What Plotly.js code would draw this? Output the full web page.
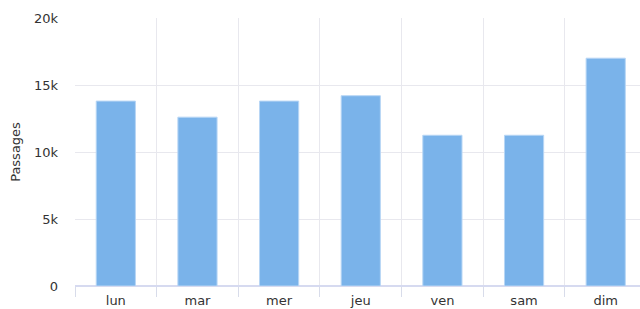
<!DOCTYPE html>
<html>
<head>
<meta charset="utf-8">
<script src="https://cdn.plot.ly/plotly-3.0.1.min.js"></script>
<style>html,body{margin:0;padding:0;background:#fff;}#chart{width:640px;height:309px;}</style>
</head>
<body>
<div id="chart"></div>
<script>
const categories = ["lun", "mar", "mer", "jeu", "ven", "sam", "dim"];
const passages = [13800, 12600, 13800, 14200, 11250, 11250, 17000];
const yTickVals = [0, 5000, 10000, 15000, 20000];
const yTickText = ["0", "5k", "10k", "15k", "20k"];

const trace = {
  type: "bar",
  x: categories,
  y: passages,
  marker: {color: "#7ab3ea", line: {color: "#b8d6f5", width: 1}},
  hoverinfo: "none"
};

const layout = {
  width: 640, height: 309,
  margin: {l: 75, r: 0, t: 18, b: 23},
  paper_bgcolor: "#ffffff", plot_bgcolor: "#ffffff",
  font: {family: "DejaVu Sans, sans-serif", size: 13, color: "#333333"},
  bargap: 0.52,
  showlegend: false,
  xaxis: {
    type: "category",
    range: [-0.5, 6.42],
    tickson: "boundaries",
    ticks: "outside", ticklen: 10, tickcolor: "#d8dcea", tickwidth: 1,
    ticklabelstandoff: 5,
    showgrid: true, gridcolor: "#e8e8ee", gridwidth: 1,
    showline: false, zeroline: false,
    tickfont: {size: 13, color: "#333333"}
  },
  yaxis: {
    range: [0, 20000],
    tickvals: yTickVals, ticktext: yTickText,
    showgrid: true, gridcolor: "#e8e8ee", gridwidth: 1,
    zeroline: true, zerolinecolor: "#d6daf0", zerolinewidth: 2,
    ticks: "", ticklabelstandoff: 16,
    title: {text: "Passages", font: {size: 13, color: "#333333"}, standoff: 10},
    tickfont: {size: 13, color: "#333333"}
  }
};

Plotly.newPlot("chart", [trace], layout, {displayModeBar: false, staticPlot: true});
</script>
</body>
</html>
